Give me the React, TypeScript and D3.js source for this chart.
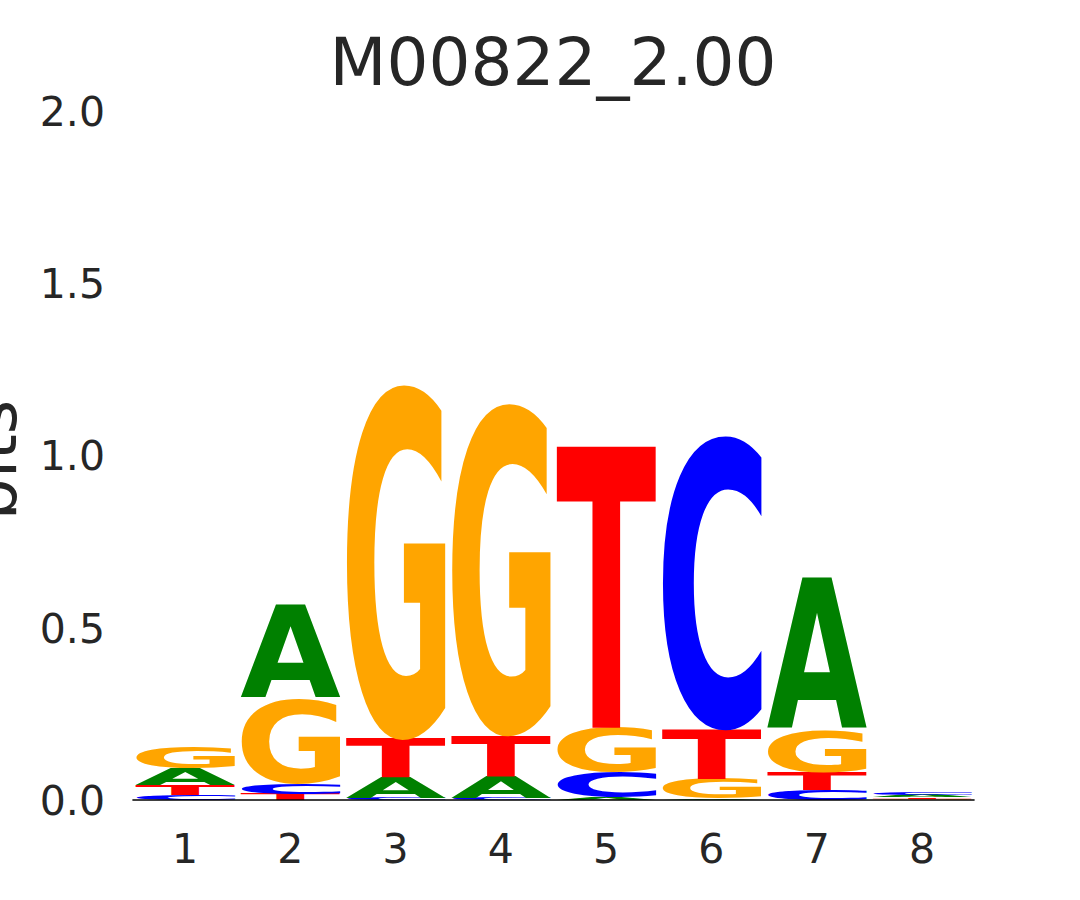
import React from "react";
import * as d3 from "d3";

const positions = [1, 2, 3, 4, 5, 6, 7, 8];
const heightsA = [0.049, 0.27, 0.061, 0.064, 0.009, 0.004, 0.44, 0.006];
const heightsC = [0.0145, 0.032, 0.006, 0.006, 0.073, 0.857, 0.029, 0.007];
const heightsG = [0.064, 0.247, 1.034, 0.969, 0.128, 0.058, 0.122, 0.004];
const heightsT = [0.029, 0.017, 0.113, 0.12, 0.828, 0.145, 0.055, 0.005];
const yTicks = [0, 0.5, 1.0, 1.5, 2.0];
const title = "M00822_2.00";
const yLabel = "bits";

const letterColors: Record<string, string> = { A: "#008000", C: "#0000ff", G: "#ffa500", T: "#ff0000" };
const FONT = "DejaVu Sans";
const TEXT = "#262626";

let canvas: HTMLCanvasElement | null = null;
function measure(ch: string) {
  if (!canvas) canvas = document.createElement("canvas");
  const ctx = canvas.getContext("2d")!;
  ctx.font = `bold 100px "${FONT}"`;
  const m = ctx.measureText(ch);
  return { left: -m.actualBoundingBoxLeft, right: m.actualBoundingBoxRight, top: -m.actualBoundingBoxAscent, bottom: m.actualBoundingBoxDescent };
}

export default function App() {
  const W = 1080, H = 900;
  const x = d3.scaleLinear().domain([0.5, 8.5]).range([132.4, 974.6]);
  const y = d3.scaleLinear().domain([0, 2]).range([800, 111]);
  const letterWidth = 0.95;

  const glyphs: JSX.Element[] = [];
  positions.forEach((p, i) => {
    const items = [
      { ch: "A", h: heightsA[i] },
      { ch: "C", h: heightsC[i] },
      { ch: "G", h: heightsG[i] },
      { ch: "T", h: heightsT[i] },
    ].sort((a, b) => a.h - b.h);
    let base = 0;
    items.forEach((it) => {
      const x0 = x(p - letterWidth / 2), x1 = x(p + letterWidth / 2);
      const yb = y(base), yt = y(base + it.h);
      const m = measure(it.ch);
      const sx = (x1 - x0) / (m.right - m.left);
      const sy = (yb - yt) / (m.bottom - m.top);
      glyphs.push(
        <text
          key={`${p}-${it.ch}`}
          transform={`translate(${x0},${yt}) scale(${sx},${sy}) translate(${-m.left},${-m.top})`}
          fontFamily={FONT}
          fontWeight="bold"
          fontSize={100}
          fill={letterColors[it.ch]}
        >
          {it.ch}
        </text>
      );
      base += it.h;
    });
  });

  return (
    <svg width={W} height={H} style={{ position: "absolute", left: 0, top: 0, background: "#fff" }} fontFamily={FONT}>
      <rect width={W} height={H} fill="#fff" />
      <text x={553} y={85} textAnchor="middle" fontSize={66} fill={TEXT}>{title}</text>
      {yTicks.map((t) => (
        <text key={t} x={105} y={y(t)} dy="0.36em" textAnchor="end" fontSize={41} fill={TEXT}>
          {d3.format(".1f")(t)}
        </text>
      ))}
      {positions.map((p) => (
        <text key={p} x={x(p)} y={863} textAnchor="middle" fontSize={41} fill={TEXT}>{p}</text>
      ))}
      <text transform={`translate(16,460) rotate(-90)`} textAnchor="middle" fontSize={66} fill={TEXT}>{yLabel}</text>
      {glyphs}
      <line x1={x(0.5)} x2={x(8.5)} y1={y(0)} y2={y(0)} stroke="#000" strokeWidth={1.5} />
    </svg>
  );
}
